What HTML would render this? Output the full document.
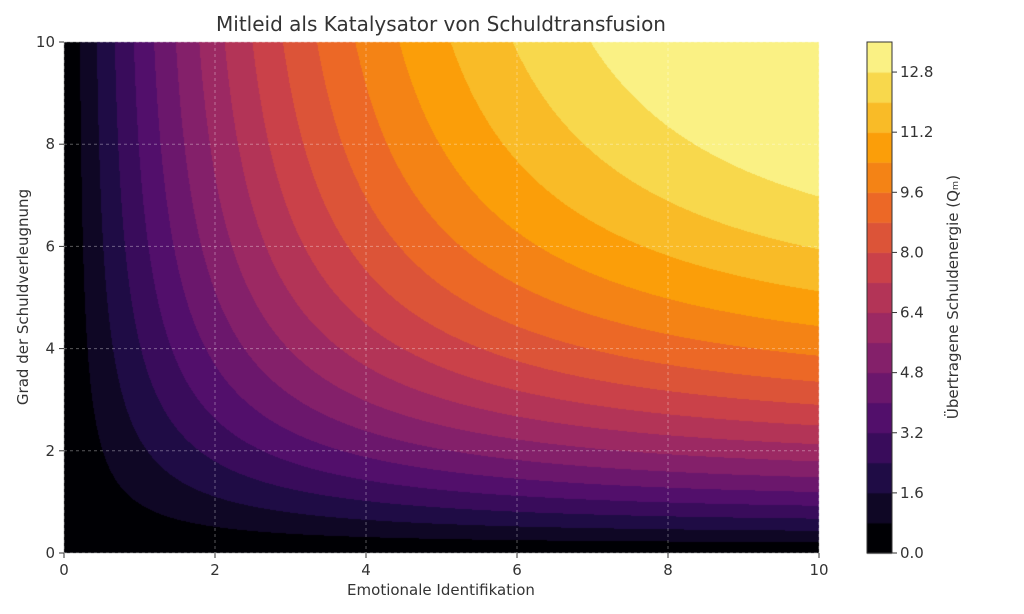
<!DOCTYPE html>
<html><head><meta charset="utf-8"><style>
body{margin:0;background:#fff;font-family:"Liberation Sans","DejaVu Sans",sans-serif;}
#wrap{position:relative;width:1024px;height:614px;}
canvas{position:absolute;left:0;top:0;}
svg{position:absolute;left:0;top:0;}
text{font-family:"DejaVu Sans","Liberation Sans",sans-serif;fill:#333;}
</style></head><body>
<div id="wrap">
<canvas id="cv" width="1024" height="614"></canvas>
<svg id="sv" width="1024" height="614"></svg>
</div>
<script>
// data
const levels = [0,0.8,1.6,2.4,3.2,4.0,4.8,5.6,6.4,7.2,8.0,8.8,9.6,10.4,11.2,12.0,12.8,13.6];
const xTicks = [0,2,4,6,8,10];
const yTicks = [0,2,4,6,8,10];
const cbTicks = [0.0,1.6,3.2,4.8,6.4,8.0,9.6,11.2,12.8];
const amplitude = [16.9];
const saturation = [4.0];
const infernoStops = ["#000004","#1b0c41","#4a0c6b","#781c6d","#a52c60","#cf4446","#ed6925","#fb9b06","#f7d13d","#fcffa4"];

const PX0=64,PX1=819,PY0=553,PY1=42;
const xs=v=>PX0+(v-0)/(10-0)*(PX1-PX0);
const ys=v=>PY0-(v-0)/(10-0)*(PY0-PY1);
const CBX=867,CBW=25;
const cbs=v=>PY0-(v-levels[0])/(levels[levels.length-1]-levels[0])*(PY0-PY1);

function hex(h){return [parseInt(h.slice(1,3),16),parseInt(h.slice(3,5),16),parseInt(h.slice(5,7),16)];}
function inferno(t){const n=infernoStops.length-1;const p=Math.max(0,Math.min(1,t))*n;const i=Math.min(n-1,Math.floor(p));const f=p-i;
 const a=hex(infernoStops[i]),b=hex(infernoStops[i+1]);return a.map((v,k)=>Math.round(v+(b[k]-v)*f));}
const nb=levels.length-1;
const bandColors=[];for(let i=0;i<nb;i++)bandColors.push(inferno(i/(nb-1)*0.965));
function Q(x,y){const g=t=>1-Math.exp(-t/saturation[0]);return amplitude[0]*g(x)*g(y);}
function band(q){for(let i=nb-1;i>=0;i--){if(q>=levels[i])return Math.min(i,nb-1);}return 0;}

const cv=document.getElementById('cv');const ctx=cv.getContext('2d');
const W=PX1-PX0,H=PY0-PY1;const img=ctx.createImageData(W,H);
for(let j=0;j<H;j++){const y=(PY0-(PY1+j+0.5))/(PY0-PY1)*10;
 for(let i=0;i<W;i++){const x=(i+0.5)/W*10;const c=bandColors[band(Q(x,y))];const k=(j*W+i)*4;
  img.data[k]=c[0];img.data[k+1]=c[1];img.data[k+2]=c[2];img.data[k+3]=255;}}
ctx.putImageData(img,PX0,PY1);
// colorbar
for(let i=0;i<nb;i++){const c=bandColors[i];ctx.fillStyle=`rgb(${c[0]},${c[1]},${c[2]})`;
 const y0=cbs(levels[i+1]),y1=cbs(levels[i]);ctx.fillRect(CBX,y0,CBW,y1-y0+0.5);}

const sv=document.getElementById('sv');const NS='http://www.w3.org/2000/svg';
function mk(tag,attrs,txt){const e=document.createElementNS(NS,tag);for(const k in attrs)e.setAttribute(k,attrs[k]);if(txt!==undefined)e.textContent=txt;sv.appendChild(e);return e;}
xTicks.forEach(v=>{const x=xs(v);
 const g=mk('line',{x1:x,x2:x,y1:PY1,y2:PY0,stroke:'#fff','stroke-opacity':0.35,'stroke-dasharray':'3,3'});
 
 
 const t=mk('line',{x1:x,x2:x,y1:PY0,y2:PY0+5,stroke:'#333'});
 
 
 const l=mk('text',{x:x,y:PY0+22,'text-anchor':'middle','font-size':15},String(v));
 
 });
yTicks.forEach(v=>{const y=ys(v);
 const g=mk('line',{x1:PX0,x2:PX1,y1:y,y2:y,stroke:'#fff','stroke-opacity':0.35,'stroke-dasharray':'3,3'});
 
 
 const t=mk('line',{x1:PX0-5,x2:PX0,y1:y,y2:y,stroke:'#333'});
 
 
 const l=mk('text',{x:PX0-9,y:y+5,'text-anchor':'end','font-size':15},String(v));
 
 });
cbTicks.forEach(v=>{const y=cbs(v);
 const t=mk('line',{x1:CBX+CBW,x2:CBX+CBW+5,y1:y,y2:y,stroke:'#333'});
 
 
 const l=mk('text',{x:CBX+CBW+8,y:y+5,'font-size':15},v.toFixed(1));
 
 });
const fr=mk('rect',{x:CBX,y:PY1,width:CBW,height:PY0-PY1,fill:'none',stroke:'#333','stroke-width':1});


const ti=mk('text',{x:441,y:31,'text-anchor':'middle','font-size':20},'Mitleid als Katalysator von Schuldtransfusion');


const xl=mk('text',{x:441,y:595,'text-anchor':'middle','font-size':15},'Emotionale Identifikation');


const yl=mk('text',{x:0,y:0,'text-anchor':'middle','font-size':15,transform:'translate(28,297) rotate(-90)'},'Grad der Schuldverleugnung');


const cl=mk('text',{x:0,y:0,'text-anchor':'middle','font-size':15,transform:'translate(958,297) rotate(-90)'},'Übertragene Schuldenergie (Qₘ)');


</script>
</body></html>
